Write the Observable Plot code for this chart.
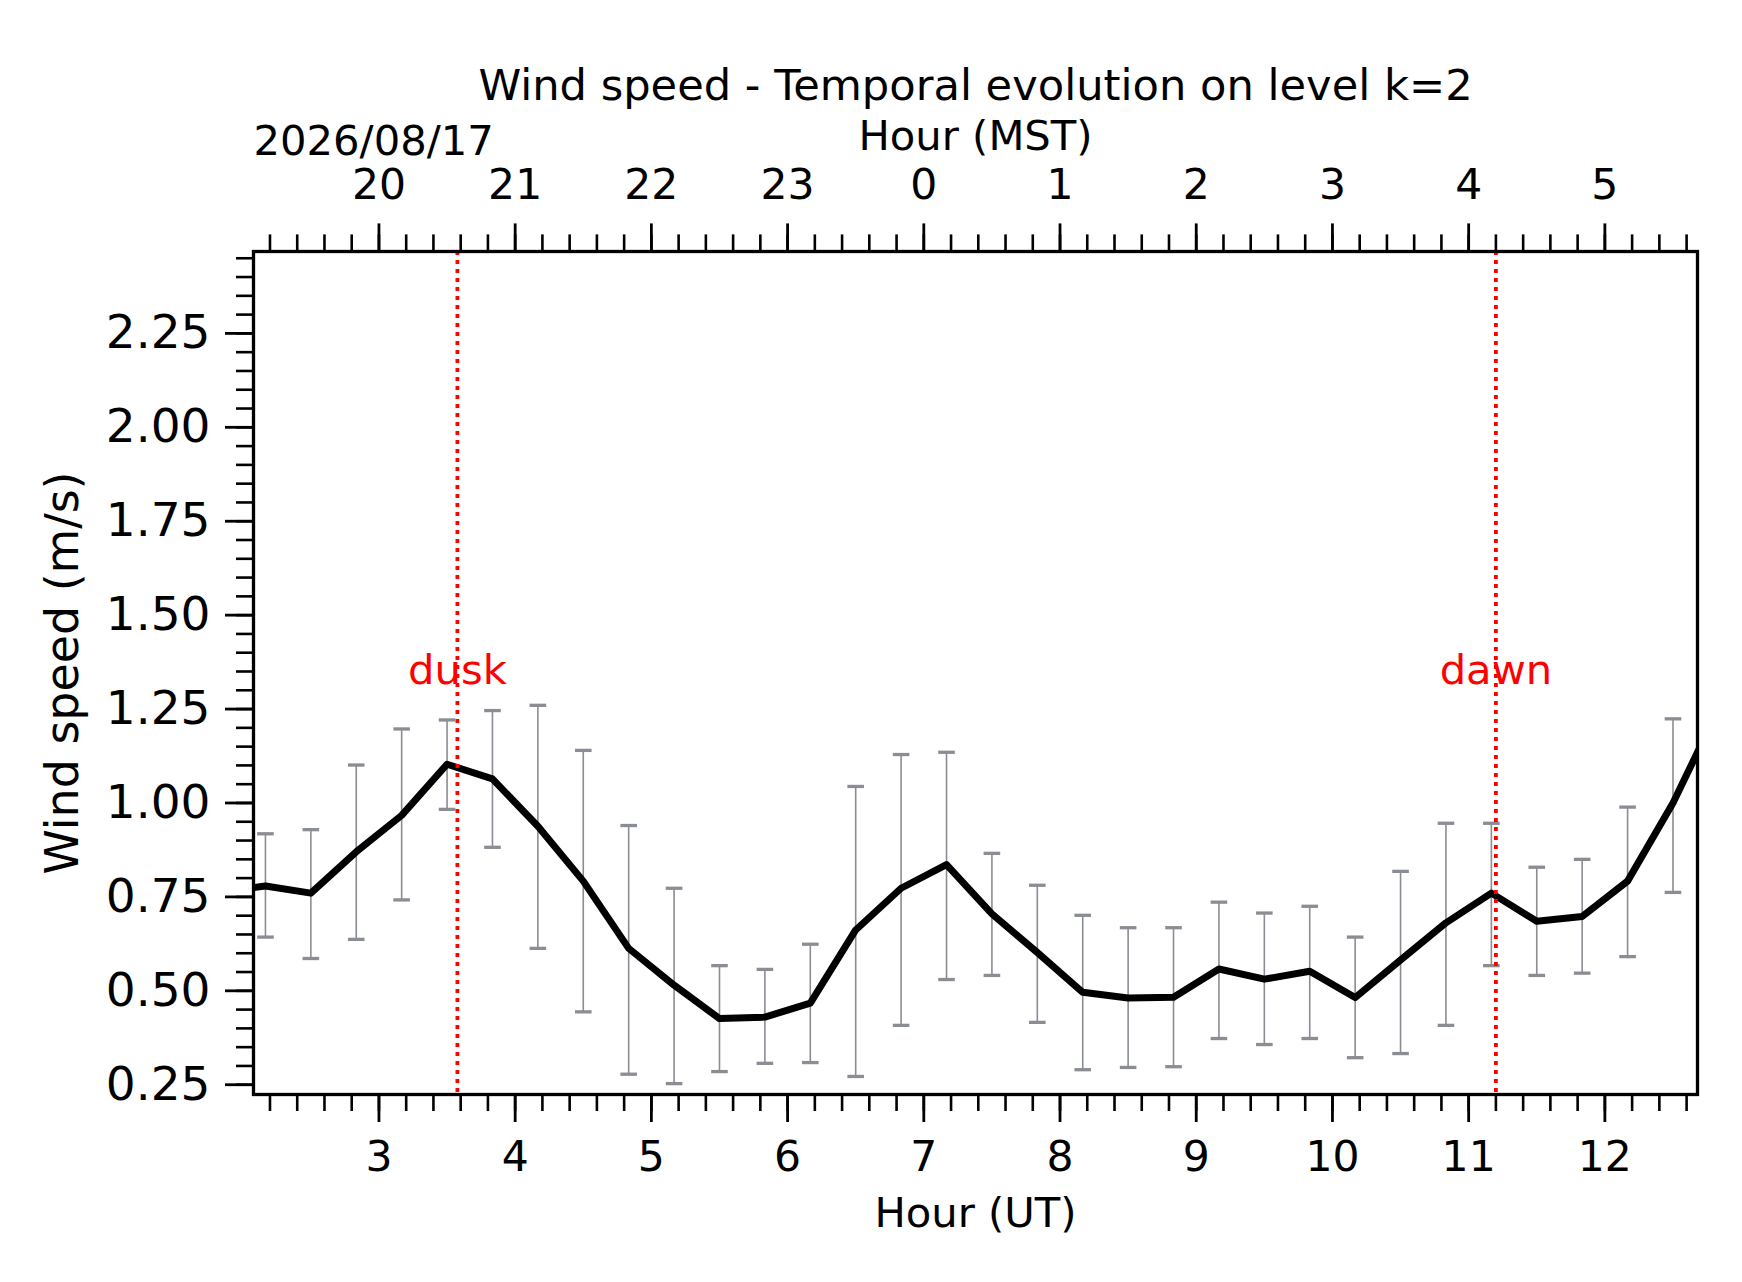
<!DOCTYPE html>
<html>
<head>
<meta charset="utf-8">
<script src="https://cdn.jsdelivr.net/npm/d3@7"></script>
<script src="https://cdn.jsdelivr.net/npm/@observablehq/plot@0.6"></script>
<style>
  html, body { margin: 0; padding: 0; background: #fff; }
  #chart svg { display: block; }
</style>
</head>
<body>
<div id="chart"></div>
<script>
// ---- data ----
const hoursUT = [1.8333, 2.1667, 2.5, 2.8333, 3.1667, 3.5, 3.8333, 4.1667, 4.5, 4.8333,
  5.1667, 5.5, 5.8333, 6.1667, 6.5, 6.8333, 7.1667, 7.5, 7.8333, 8.1667,
  8.5, 8.8333, 9.1667, 9.5, 9.8333, 10.1667, 10.5, 10.8333, 11.1667, 11.5,
  11.8333, 12.1667, 12.5, 12.8333];
const windMean = [0.764, 0.779, 0.760, 0.870, 0.967, 1.103, 1.064, 0.938, 0.792, 0.613,
  0.515, 0.426, 0.430, 0.467, 0.662, 0.773, 0.836, 0.705, 0.602, 0.496,
  0.481, 0.483, 0.558, 0.531, 0.552, 0.482, 0.582, 0.681, 0.760, 0.685,
  0.698, 0.792, 1.000, 1.250];
const windUpper = [0.930, 0.918, 0.929, 1.101, 1.197, 1.221, 1.246, 1.260, 1.140, 0.940,
  0.773, 0.567, 0.557, 0.624, 1.044, 1.129, 1.135, 0.866, 0.781, 0.701,
  0.668, 0.668, 0.736, 0.707, 0.725, 0.643, 0.818, 0.946, 0.946, 0.829,
  0.850, 0.989, 1.224, 1.500];
const windLower = [0.600, 0.643, 0.586, 0.637, 0.742, 0.983, 0.882, 0.613, 0.444, 0.278,
  0.253, 0.285, 0.307, 0.309, 0.272, 0.408, 0.530, 0.541, 0.416, 0.290,
  0.296, 0.298, 0.373, 0.357, 0.373, 0.322, 0.333, 0.408, 0.567, 0.541,
  0.547, 0.591, 0.762, 1.000];

const utTicks = [3, 4, 5, 6, 7, 8, 9, 10, 11, 12];
const utTickLabels = ["3", "4", "5", "6", "7", "8", "9", "10", "11", "12"];
const mstTickLabels = ["20", "21", "22", "23", "0", "1", "2", "3", "4", "5"];
const yTicks = [0.25, 0.50, 0.75, 1.00, 1.25, 1.50, 1.75, 2.00, 2.25];
const yTickLabels = ["0.25", "0.50", "0.75", "1.00", "1.25", "1.50", "1.75", "2.00", "2.25"];

const eventHours = [3.576, 11.2];
const eventLabels = ["dusk", "dawn"];
const eventLabelLevel = 1.318;

const titleText = "Wind speed - Temporal evolution on level k=2";
const dateText = "2026/08/17";
const topAxisTitle = "Hour (MST)";
const bottomAxisTitle = "Hour (UT)";
const yAxisTitle = "Wind speed (m/s)";

// ---- tables ----
const rows = hoursUT.map((t, i) => ({t, mean: windMean[i], hi: windUpper[i], lo: windLower[i]}));
const events = eventHours.map((t, i) => ({t, label: eventLabels[i]}));
const xMinor = d3.range(11, 64).map(i => i / 5);
const yMinor = d3.range(5, 50).map(i => i / 20);

const FS = 41.7;
const FS_X = 42.5;
const FS_Y = 47;
const ERR = "#8b8d94";
const capSymbol = { draw(ctx) { ctx.moveTo(-8.3, 0); ctx.lineTo(8.3, 0); } };

const chart = Plot.plot({
  width: 1742,
  height: 1282,
  marginLeft: 253,
  marginRight: 45,
  marginTop: 251,
  marginBottom: 188,
  style: {fontFamily: "DejaVu Sans", background: "#fff", color: "#000"},
  x: {domain: [2.079, 12.68]},
  y: {domain: [0.224, 2.468]},
  marks: [
    // error bars
    Plot.ruleX(rows, {x: "t", y1: "lo", y2: "hi", stroke: ERR, strokeWidth: 1.6, clip: true}),
    Plot.dot(rows, {x: "t", y: "hi", symbol: capSymbol, stroke: ERR, strokeWidth: 3.3, fill: "none", clip: true}),
    Plot.dot(rows, {x: "t", y: "lo", symbol: capSymbol, stroke: ERR, strokeWidth: 3.3, fill: "none", clip: true}),
    // mean line
    Plot.line(rows, {x: "t", y: "mean", stroke: "#000", strokeWidth: 7, strokeLinejoin: "round", clip: true}),
    // dusk / dawn
    Plot.ruleX(events, {x: "t", stroke: "red", strokeWidth: 3.8, strokeDasharray: "4,5"}),
    Plot.text(events, {x: "t", y: () => eventLabelLevel, text: "label", fill: "red", fontSize: FS, lineAnchor: "bottom", textAnchor: "middle"}),
    // bottom axis
    Plot.axisX(xMinor, {anchor: "bottom", tickSize: 17, text: null, label: null, strokeWidth: 2.6}),
    Plot.axisX(utTicks, {anchor: "bottom", tickSize: 28, tickPadding: 18, fontSize: FS_X, label: null, strokeWidth: 2.8,
      tickFormat: d => utTickLabels[utTicks.indexOf(d)]}),
    // top axis (MST)
    Plot.axisX(xMinor, {anchor: "top", tickSize: 17.6, text: null, label: null, strokeWidth: 2.6}),
    Plot.axisX(utTicks, {anchor: "top", tickSize: 28.6, tickPadding: 24, fontSize: FS_X, label: null, strokeWidth: 2.8,
      tickFormat: d => mstTickLabels[utTicks.indexOf(d)]}),
    // y axis
    Plot.axisY(yMinor, {anchor: "left", tickSize: 17, text: null, label: null, strokeWidth: 2.6}),
    Plot.axisY(yTicks, {anchor: "left", tickSize: 28, tickPadding: 15, fontSize: FS_Y, label: null, strokeWidth: 2.8,
      tickFormat: d => yTickLabels[yTicks.indexOf(d)]}),
    // frame
    Plot.frame({stroke: "#000", strokeWidth: 3.3}),
    // titles
    Plot.text([titleText], {frameAnchor: "top", dy: -151.4, lineAnchor: "bottom", fontSize: 43.2, fill: "#000"}),
    Plot.text([topAxisTitle], {frameAnchor: "top", dy: -102, lineAnchor: "bottom", fontSize: FS, fill: "#000"}),
    Plot.text([dateText], {frameAnchor: "top-left", dx: 0, dy: -97, textAnchor: "start", lineAnchor: "bottom", fontSize: FS, fill: "#000"}),
    Plot.text([bottomAxisTitle], {frameAnchor: "bottom", dy: 132.4, lineAnchor: "bottom", fontSize: FS, fill: "#000"}),
    Plot.text([yAxisTitle], {frameAnchor: "left", dx: -175.6, rotate: -90, lineAnchor: "bottom", textAnchor: "middle", fontSize: 45.9, fill: "#000"})
  ]
});
document.getElementById("chart").appendChild(chart);
</script>
</body>
</html>
